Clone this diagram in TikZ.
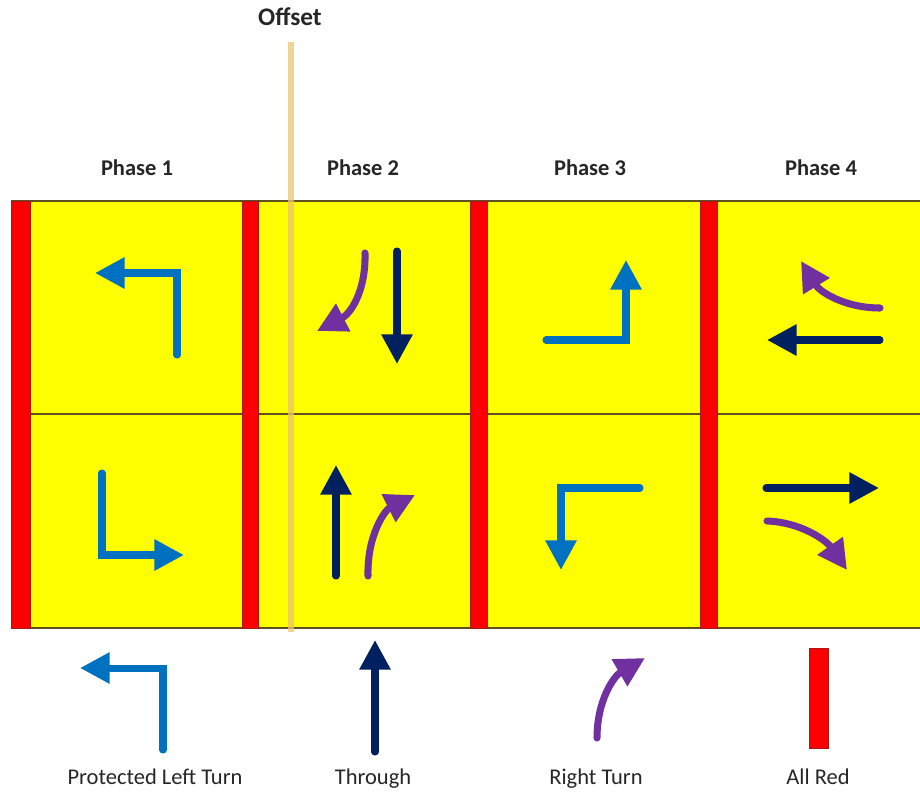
\documentclass[tikz,border=0pt]{standalone}
\usepackage{fontspec}
\setmainfont{Carlito}
\definecolor{sigYellow}{RGB}{255,255,0}
\definecolor{sigRed}{RGB}{250,0,0}
\definecolor{sigRedEdge}{RGB}{165,25,25}
\definecolor{sigEdge}{RGB}{95,80,35}
\definecolor{sigBlue}{RGB}{0,112,192}
\definecolor{sigNavy}{RGB}{0,32,96}
\definecolor{sigPurple}{RGB}{112,48,160}
\definecolor{sigOffset}{RGB}{236,196,110}
\usepackage{tikz}
\usetikzlibrary{arrows.meta}
\tikzset{
  move/.style={line width=5pt, line cap=round, -{Triangle[length=21pt,width=21pt]}},
  redbar/.style={fill=sigRed, draw=sigRedEdge, line width=0.6pt},
  phaselbl/.style={font=\bfseries\fontsize{16}{19}\selectfont, text=black!85, anchor=base},
  keylbl/.style={font=\fontsize{16}{19}\selectfont, text=black!85, anchor=base},
}

\begin{document}
\begin{tikzpicture}[x=0.025cm, y=-0.025cm]
  \useasboundingbox (0,0) rectangle (920,792);

  \fill[sigYellow] (11,201) rectangle (920,628);
  \foreach \y in {201,414,628}
    \draw[sigEdge, line width=0.8pt] (11,\y) -- (920,\y);
  \foreach \x/\w in {11/19,242/16,470/17,700/17}
    \filldraw[redbar] (\x,201) rectangle ++(\w,427);

  \draw[sigOffset, opacity=0.75, line width=4.3pt] (291,42) -- (291,632);
  \node[font=\bfseries\fontsize{18}{21}\selectfont, text=black!85, anchor=base] (offset) at (290,25) {Offset};

  \foreach \i/\x in {1/137,2/363,3/590,4/821}
    \node[phaselbl] (phase\i) at (\x,175) {Phase \i};

  % phase 1
  \draw[move, sigBlue] (177,355) -- (177,273) -- (95,273);
  \draw[move, sigBlue] (102,473) -- (102,555) -- (184,555);
  % phase 2
  \draw[move, sigPurple] (365,253) .. controls (366,292) and (350,314) .. (317,331);
  \draw[move, sigNavy] (397,251) -- (397,364);
  \draw[move, sigNavy] (336,576) -- (336,465);
  \draw[move, sigPurple] (368,576) .. controls (367,535) and (385,510) .. (415,495);
  % phase 3
  \draw[move, sigBlue] (546,340) -- (626,340) -- (626,260);
  \draw[move, sigBlue] (640,488) -- (561,488) -- (561,570);
  % phase 4
  \draw[move, sigPurple] (880,308) .. controls (845,308) and (820,292) .. (801,261);
  \draw[move, sigNavy] (880,340) -- (767,340);
  \draw[move, sigNavy] (766,488) -- (879,488);
  \draw[move, sigPurple] (767,521) .. controls (800,522) and (826,540) .. (847,570);

  % legend
  \draw[move, sigBlue] (163,750) -- (163,668) -- (80,668);
  \draw[move, sigNavy] (375,752) -- (375,640);
  \draw[move, sigPurple] (597,738) .. controls (597,700) and (614,676) .. (645,658);
  \filldraw[redbar] (809,648) rectangle (828,748);

  \node[keylbl] (keyLeft) at (155,784) {Protected Left Turn};
  \node[keylbl] (keyThrough) at (373,784) {Through};
  \node[keylbl] (keyRight) at (596,784) {Right Turn};
  \node[keylbl] (keyRed) at (818,784) {All Red};
\end{tikzpicture}
\end{document}
